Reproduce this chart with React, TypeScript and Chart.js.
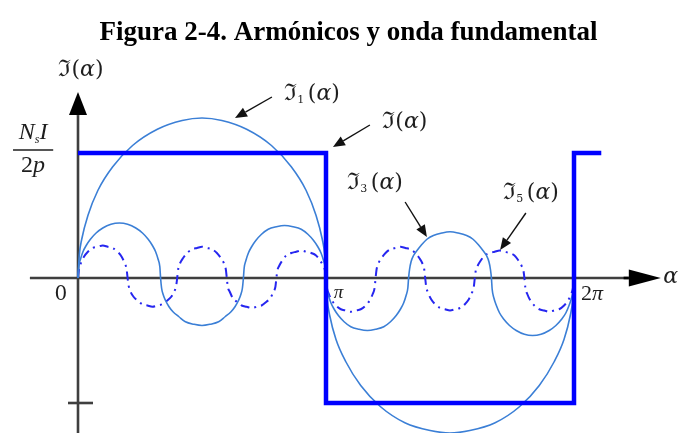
import React, { useEffect, useRef } from "react";
import { Chart, registerables } from "chart.js";

Chart.register(...registerables);

// α measured in multiples of π; amplitudes in units of the square-wave height N_s I / 2p
const squareX = [0, 1, 1, 2, 2, 2.11];
const squareY = [1, 1, -1, -1, 1, 1];

const fundX = [0, 0.005, 0.015, 0.04, 0.08, 0.14, 0.22, 0.32, 0.42, 0.5, 0.58, 0.68, 0.78, 0.86, 0.92, 0.96, 0.985, 0.995,
  1, 1.005, 1.015, 1.04, 1.08, 1.14, 1.22, 1.32, 1.42, 1.5, 1.58, 1.68, 1.78, 1.86, 1.92, 1.96, 1.985, 1.995, 2];
const fundY = [0, 0.18, 0.31, 0.5, 0.7, 0.89, 1.06, 1.19, 1.26, 1.28, 1.26, 1.19, 1.06, 0.89, 0.7, 0.5, 0.31, 0.18,
  0, -0.17, -0.3, -0.49, -0.67, -0.86, -1.03, -1.16, -1.22, -1.24, -1.22, -1.16, -1.03, -0.86, -0.67, -0.49, -0.3, -0.17, 0];

const h3X = [
  0, 0.003, 0.01, 0.02, 0.033, 0.05, 0.073, 0.1, 0.133, 0.167, 0.2, 0.233, 0.26, 0.283, 0.3, 0.313, 0.323, 0.33,
  0.333, 0.337, 0.343, 0.353, 0.367, 0.383, 0.407, 0.433, 0.467, 0.5, 0.533, 0.567, 0.593, 0.617, 0.633, 0.647, 0.657, 0.663,
  0.667, 0.67, 0.677, 0.687, 0.7, 0.717, 0.74, 0.767, 0.8, 0.833, 0.867, 0.9, 0.927, 0.95, 0.967, 0.98, 0.99, 0.997,
  1, 1.003, 1.01, 1.02, 1.033, 1.05, 1.073, 1.1, 1.133, 1.167, 1.2, 1.233, 1.26, 1.283, 1.3, 1.313, 1.323, 1.33,
  1.333, 1.337, 1.343, 1.353, 1.367, 1.383, 1.407, 1.433, 1.467, 1.5, 1.533, 1.567, 1.593, 1.617, 1.633, 1.647, 1.657, 1.663,
  1.667, 1.67, 1.677, 1.687, 1.7, 1.717, 1.74, 1.767, 1.8, 1.833, 1.867, 1.9, 1.927, 1.95, 1.967, 1.98, 1.99, 1.997,
  2];
const h3Y = [
  0, 0.09, 0.15, 0.21, 0.26, 0.31, 0.36, 0.4, 0.43, 0.44, 0.43, 0.4, 0.36, 0.31, 0.26, 0.21, 0.15, 0.09,
  0, -0.08, -0.13, -0.18, -0.23, -0.27, -0.31, -0.35, -0.37, -0.38, -0.37, -0.35, -0.31, -0.27, -0.23, -0.18, -0.13, -0.08,
  0, 0.08, 0.14, 0.2, 0.25, 0.3, 0.35, 0.39, 0.41, 0.42, 0.41, 0.39, 0.35, 0.3, 0.25, 0.2, 0.14, 0.08,
  0, -0.08, -0.14, -0.2, -0.25, -0.3, -0.35, -0.39, -0.41, -0.42, -0.41, -0.39, -0.35, -0.3, -0.25, -0.2, -0.14, -0.08,
  0, 0.07, 0.13, 0.18, 0.22, 0.26, 0.31, 0.34, 0.36, 0.37, 0.36, 0.34, 0.31, 0.26, 0.22, 0.18, 0.13, 0.07,
  0, -0.09, -0.16, -0.22, -0.28, -0.33, -0.38, -0.42, -0.45, -0.46, -0.45, -0.42, -0.38, -0.33, -0.28, -0.22, -0.16, -0.09,
  0];

const h5X = [
  0, 0.004, 0.012, 0.024, 0.04, 0.06, 0.08, 0.1, 0.12, 0.14, 0.16, 0.176, 0.188, 0.196,
  0.2, 0.204, 0.212, 0.224, 0.24, 0.26, 0.28, 0.3, 0.32, 0.34, 0.36, 0.376, 0.388, 0.396,
  0.4, 0.404, 0.412, 0.424, 0.44, 0.46, 0.48, 0.5, 0.52, 0.54, 0.56, 0.576, 0.588, 0.596,
  0.6, 0.604, 0.612, 0.624, 0.64, 0.66, 0.68, 0.7, 0.72, 0.74, 0.76, 0.776, 0.788, 0.796,
  0.8, 0.804, 0.812, 0.824, 0.84, 0.86, 0.88, 0.9, 0.92, 0.94, 0.96, 0.976, 0.988, 0.996,
  1.0, 1.004, 1.012, 1.024, 1.04, 1.06, 1.08, 1.1, 1.12, 1.14, 1.16, 1.176, 1.188, 1.196,
  1.2, 1.204, 1.212, 1.224, 1.24, 1.26, 1.28, 1.3, 1.32, 1.34, 1.36, 1.376, 1.388, 1.396,
  1.4, 1.404, 1.412, 1.424, 1.44, 1.46, 1.48, 1.5, 1.52, 1.54, 1.56, 1.576, 1.588, 1.596,
  1.6, 1.604, 1.612, 1.624, 1.64, 1.66, 1.68, 1.7, 1.72, 1.74, 1.76, 1.776, 1.788, 1.796,
  1.8, 1.804, 1.812, 1.824, 1.84, 1.86, 1.88, 1.9, 1.92, 1.94, 1.96, 1.976, 1.988, 1.996,
  2.0];
const h5Y = [
  0, 0.07, 0.12, 0.17, 0.21, 0.24, 0.25, 0.26, 0.25, 0.24, 0.21, 0.17, 0.12, 0.07,
  0, -0.06, -0.11, -0.15, -0.18, -0.21, -0.22, -0.23, -0.22, -0.21, -0.18, -0.15, -0.11, -0.06,
  0, 0.07, 0.12, 0.16, 0.2, 0.23, 0.24, 0.25, 0.24, 0.23, 0.2, 0.16, 0.12, 0.07,
  0, -0.07, -0.11, -0.16, -0.19, -0.22, -0.23, -0.24, -0.23, -0.22, -0.19, -0.16, -0.11, -0.07,
  0, 0.06, 0.1, 0.14, 0.18, 0.2, 0.21, 0.22, 0.21, 0.2, 0.18, 0.14, 0.1, 0.06,
  0, -0.08, -0.13, -0.18, -0.22, -0.25, -0.26, -0.27, -0.26, -0.25, -0.22, -0.18, -0.13, -0.08,
  0, 0.07, 0.12, 0.16, 0.2, 0.23, 0.24, 0.25, 0.24, 0.23, 0.2, 0.16, 0.12, 0.07,
  0, -0.07, -0.12, -0.17, -0.21, -0.24, -0.25, -0.26, -0.25, -0.24, -0.21, -0.17, -0.12, -0.07,
  0, 0.06, 0.1, 0.14, 0.18, 0.2, 0.21, 0.22, 0.21, 0.2, 0.18, 0.14, 0.1, 0.06,
  0, -0.08, -0.13, -0.18, -0.22, -0.25, -0.26, -0.27, -0.26, -0.25, -0.22, -0.18, -0.13, -0.08,
  0];

const TITLE = "Figura 2-4. Armónicos y onda fundamental";

const W = 681;
const H = 433;
const X_MIN = -78 / 248;
const X_MAX = (W - 78) / 248;
const Y_MIN = -(H - 278) / 125;
const Y_MAX = 278 / 125;

const INK = "#1e1e1e";
const AXIS = "#3f3f3f";
const SERIF = "'DejaVu Serif', 'Liberation Serif', serif";
const TIMES = "'Liberation Serif', serif";

type Run = { t: string; font: string; dy?: number };

function drawRuns(ctx: CanvasRenderingContext2D, runs: Run[], cx: number, baseline: number) {
  let total = 0;
  for (const r of runs) {
    ctx.font = r.font;
    total += ctx.measureText(r.t).width;
  }
  let x = cx - total / 2;
  ctx.textAlign = "left";
  ctx.textBaseline = "alphabetic";
  ctx.fillStyle = INK;
  for (const r of runs) {
    ctx.font = r.font;
    ctx.fillText(r.t, x, baseline + (r.dy || 0));
    x += ctx.measureText(r.t).width;
  }
}

function funcLabel(sub: string): Run[] {
  const runs: Run[] = [{ t: "ℑ", font: `23px ${SERIF}` }];
  if (sub) runs.push({ t: sub + " ", font: `11px ${SERIF}`, dy: 3 });
  runs.push({ t: "(", font: `22px ${SERIF}` });
  runs.push({ t: "α", font: `italic 22px ${SERIF}` });
  runs.push({ t: ")", font: `22px ${SERIF}` });
  return runs;
}

function arrow(ctx: CanvasRenderingContext2D, x1: number, y1: number, x2: number, y2: number,
  width: number, headLen: number, headHalf: number, color: string) {
  const a = Math.atan2(y2 - y1, x2 - x1);
  const bx = x2 - headLen * Math.cos(a);
  const by = y2 - headLen * Math.sin(a);
  ctx.strokeStyle = color;
  ctx.lineWidth = width;
  ctx.beginPath();
  ctx.moveTo(x1, y1);
  ctx.lineTo(bx, by);
  ctx.stroke();
  ctx.fillStyle = color;
  ctx.beginPath();
  ctx.moveTo(x2, y2);
  ctx.lineTo(bx + headHalf * Math.sin(a), by - headHalf * Math.cos(a));
  ctx.lineTo(bx - headHalf * Math.sin(a), by + headHalf * Math.cos(a));
  ctx.closePath();
  ctx.fill();
}

const axesPlugin = {
  id: "waveAxes",
  beforeDatasetsDraw(chart: any) {
    const ctx: CanvasRenderingContext2D = chart.ctx;
    const sx = chart.scales.x;
    const sy = chart.scales.y;
    const x0 = sx.getPixelForValue(0);
    const y0 = sy.getPixelForValue(0);
    ctx.save();
    // horizontal α axis with arrow
    ctx.strokeStyle = AXIS;
    ctx.lineWidth = 2.6;
    ctx.beginPath();
    ctx.moveTo(sx.getPixelForValue(-0.194), y0);
    ctx.lineTo(sx.getPixelForValue(2.27), y0);
    ctx.stroke();
    arrow(ctx, sx.getPixelForValue(2.2), y0, sx.getPixelForValue(2.35), y0, 2.6, 32, 8.5, "#000");
    // vertical axis with arrow
    ctx.strokeStyle = AXIS;
    ctx.beginPath();
    ctx.moveTo(x0, sy.getPixelForValue(Y_MIN));
    ctx.lineTo(x0, sy.getPixelForValue(1.3));
    ctx.stroke();
    arrow(ctx, x0, sy.getPixelForValue(1.3), x0, sy.getPixelForValue(1.488), 2.6, 23, 9, "#000");
    // tick at -1
    ctx.strokeStyle = AXIS;
    ctx.beginPath();
    ctx.moveTo(x0 - 10, sy.getPixelForValue(-1));
    ctx.lineTo(x0 + 15, sy.getPixelForValue(-1));
    ctx.stroke();
    ctx.restore();
  },
  afterDraw(chart: any) {
    const ctx: CanvasRenderingContext2D = chart.ctx;
    const sx = chart.scales.x;
    const sy = chart.scales.y;
    const px = (v: number) => sx.getPixelForValue(v);
    const py = (v: number) => sy.getPixelForValue(v);
    ctx.save();
    // title
    ctx.fillStyle = "#000";
    ctx.font = `bold 27px ${TIMES}`;
    ctx.textAlign = "center";
    ctx.textBaseline = "alphabetic";
    ctx.fillText(TITLE, W / 2 + 8, 40);

    // axis titles and marks
    drawRuns(ctx, funcLabel(""), px(0.012), py(1.62));
    drawRuns(ctx, [{ t: "α", font: `italic 22px ${SERIF}` }], px(2.39), py(-0.04));
    drawRuns(ctx, [{ t: "0", font: `20px ${SERIF}` }], px(-0.069), py(-0.176));
    drawRuns(ctx, [{ t: "π", font: `italic 19px ${TIMES}` }], px(1.05), py(-0.16));
    drawRuns(ctx, [{ t: "2", font: `22px ${TIMES}` }, { t: "π", font: `italic 22px ${TIMES}` }], px(2.073), py(-0.176));

    // N_s I / 2p
    drawRuns(ctx, [
      { t: "N", font: `italic 24px ${TIMES}` },
      { t: "s", font: `italic 12px ${TIMES}`, dy: 4 },
      { t: "I", font: `italic 24px ${TIMES}` },
    ], px(-0.181), py(1.112));
    ctx.strokeStyle = INK;
    ctx.lineWidth = 1.3;
    ctx.beginPath();
    ctx.moveTo(px(-0.262), py(1.024));
    ctx.lineTo(px(-0.1), py(1.024));
    ctx.stroke();
    drawRuns(ctx, [
      { t: "2", font: `24px ${TIMES}` },
      { t: "p", font: `italic 24px ${TIMES}` },
    ], px(-0.181), py(0.848));

    // series callouts
    drawRuns(ctx, funcLabel("1"), px(0.944), py(1.424));
    drawRuns(ctx, funcLabel(""), px(1.318), py(1.2));
    drawRuns(ctx, funcLabel("3"), px(1.198), py(0.712));
    drawRuns(ctx, funcLabel("5"), px(1.827), py(0.632));
    arrow(ctx, px(0.782), py(1.448), px(0.633), py(1.28), 1.4, 12, 5, "#111");
    arrow(ctx, px(1.177), py(1.224), px(1.028), py(1.048), 1.4, 12, 5, "#111");
    arrow(ctx, px(1.319), py(0.608), px(1.407), py(0.328), 1.4, 12, 5, "#111");
    arrow(ctx, px(1.806), py(0.52), px(1.702), py(0.224), 1.4, 12, 5, "#111");
    ctx.restore();
  },
};

function pts(xs: number[], ys: number[]) {
  return xs.map((x, i) => ({ x, y: ys[i] }));
}

export default function App() {
  const ref = useRef<HTMLCanvasElement | null>(null);

  useEffect(() => {
    if (!ref.current) return;
    const chart = new Chart(ref.current, {
      type: "line",
      data: {
        datasets: [
          {
            label: "ℑ(α)",
            data: pts(squareX, squareY),
            borderColor: "#0000ff",
            borderWidth: 4.5,
            tension: 0,
            borderJoinStyle: "miter",
            borderCapStyle: "butt",
            pointRadius: 0,
            clip: false,
          },
          {
            label: "ℑ1(α)",
            data: pts(fundX, fundY),
            borderColor: "#3b7fd6",
            borderWidth: 1.6,
            cubicInterpolationMode: "monotone",
            pointRadius: 0,
            clip: false,
          },
          {
            label: "ℑ3(α)",
            data: pts(h3X, h3Y),
            borderColor: "#3b7fd6",
            borderWidth: 1.6,
            cubicInterpolationMode: "monotone",
            pointRadius: 0,
            clip: false,
          },
          {
            label: "ℑ5(α)",
            data: pts(h5X, h5Y),
            borderColor: "#2626f0",
            borderWidth: 2,
            borderDash: [9, 5, 2, 5],
            cubicInterpolationMode: "monotone",
            pointRadius: 0,
            clip: false,
          },
        ],
      } as any,
      options: {
        animation: false,
        responsive: false,
        devicePixelRatio: 1,
        layout: { padding: 0 },
        events: [],
        scales: {
          x: { type: "linear", min: X_MIN, max: X_MAX, display: false },
          y: { type: "linear", min: Y_MIN, max: Y_MAX, display: false },
        },
        plugins: {
          legend: { display: false },
          tooltip: { enabled: false },
          title: { display: false },
        },
      },
      plugins: [axesPlugin],
    });
    return () => chart.destroy();
  }, []);

  return (
    <div style={{ position: "absolute", left: 0, top: 0, width: W, height: H, background: "#fff" }}>
      <canvas ref={ref} width={W} height={H} style={{ width: W, height: H, display: "block" }} />
    </div>
  );
}
